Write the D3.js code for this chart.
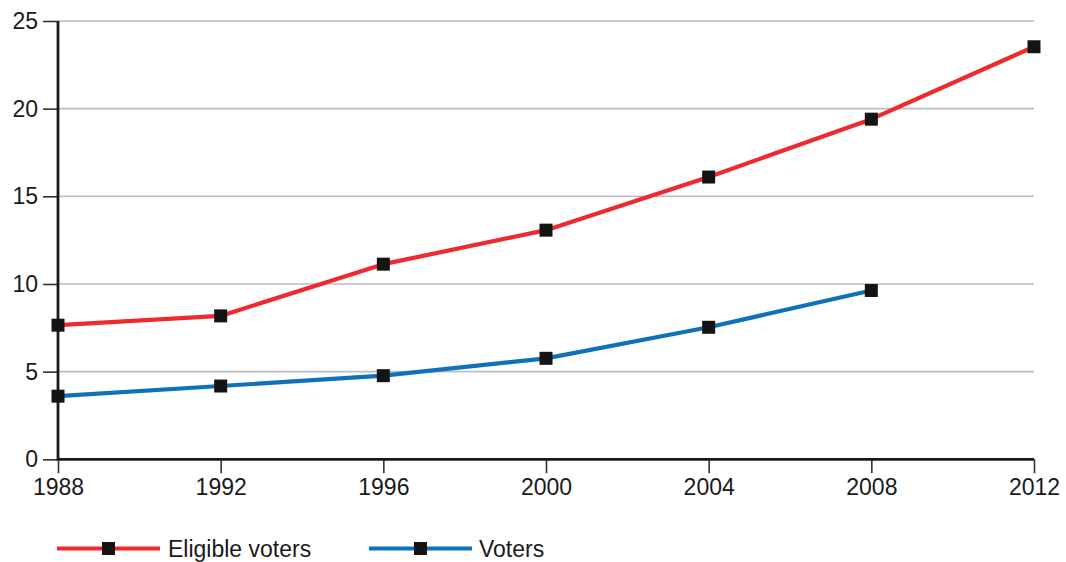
<!DOCTYPE html>
<html>
<head>
<meta charset="utf-8">
<script src="https://cdn.jsdelivr.net/npm/d3@7"></script>
<style>
  html, body { margin: 0; padding: 0; background: #fff; }
  svg { display: block; font-family: "Liberation Sans", Arial, Helvetica, sans-serif; }
</style>
</head>
<body>
<svg id="chart" width="1066" height="562"></svg>
<script>
const years = [1988, 1992, 1996, 2000, 2004, 2008, 2012];
const eligibleVoters = [7.65, 8.18, 11.13, 13.07, 16.1, 19.4, 23.53];
const voters = [3.6, 4.18, 4.77, 5.76, 7.53, 9.63];
const yTicks = [0, 5, 10, 15, 20, 25];
const seriesNames = ["Eligible voters", "Voters"];
const seriesColors = ["#ee2a2e", "#0f72b9"];

const FS = 23;
const svg = d3.select("#chart");
const x = d3.scaleLinear().domain([1988, 2012]).range([58, 1034]);
const y = d3.scaleLinear().domain([0, 25]).range([459.3, 21]);

// gridlines
svg.append("g").selectAll("line").data(yTicks.filter(d => d > 0)).join("line")
  .attr("x1", x(1988)).attr("x2", x(2012))
  .attr("y1", d => y(d)).attr("y2", d => y(d))
  .attr("stroke", "#bdbdbd").attr("stroke-width", 1.6);

// y axis
const yAxis = svg.append("g").attr("transform", `translate(${x(1988)},0)`)
  .call(d3.axisLeft(y).tickValues(yTicks).tickSize(15).tickPadding(5).tickFormat(d3.format("d")));
yAxis.select(".domain").remove();
yAxis.attr("font-size", FS).attr("font-family", "Liberation Sans, Arial, sans-serif");
yAxis.selectAll(".tick line").attr("stroke", "#333").attr("stroke-width", 1.6);
yAxis.selectAll(".tick text").attr("fill", "#1a1a1a");

// x axis
const xAxis = svg.append("g").attr("transform", `translate(0,${y(0)})`)
  .call(d3.axisBottom(x).tickValues(years).tickSize(14).tickPadding(5).tickFormat(d3.format("d")));
xAxis.select(".domain").remove();
xAxis.attr("font-size", FS).attr("font-family", "Liberation Sans, Arial, sans-serif");
xAxis.selectAll(".tick line").attr("stroke", "#333").attr("stroke-width", 1.6);
xAxis.selectAll(".tick text").attr("fill", "#1a1a1a");

// axis lines
svg.append("line").attr("x1", x(1988)).attr("x2", x(2012)).attr("y1", y(0)).attr("y2", y(0))
  .attr("stroke", "#1a1a1a").attr("stroke-width", 2.8);
svg.append("line").attr("x1", x(1988)).attr("x2", x(1988)).attr("y1", y(0) + 1.4).attr("y2", y(25))
  .attr("stroke", "#1a1a1a").attr("stroke-width", 2.8);

const line = d3.line().x(d => x(d[0])).y(d => y(d[1]));
const seriesData = [
  eligibleVoters.map((v, i) => [years[i], v]),
  voters.map((v, i) => [years[i], v])
];

seriesData.forEach((data, si) => {
  svg.append("path").datum(data).attr("d", line)
    .attr("fill", "none").attr("stroke", seriesColors[si]).attr("stroke-width", 4.2)
    .attr("stroke-linejoin", "round");
  svg.append("g").selectAll("rect").data(data).join("rect")
    .attr("x", d => x(d[0]) - 6.5).attr("y", d => y(d[1]) - 6.5)
    .attr("width", 13).attr("height", 13).attr("fill", "#141414");
});

// legend
const legendItems = [
  { x1: 57, x2: 160, tx: 168 },
  { x1: 369, x2: 472, tx: 479 }
];
const ly = 548.5;
legendItems.forEach((it, i) => {
  const g = svg.append("g");
  g.append("line").attr("x1", it.x1).attr("x2", it.x2).attr("y1", ly).attr("y2", ly)
    .attr("stroke", seriesColors[i]).attr("stroke-width", 4.2);
  const cx = (it.x1 + it.x2) / 2;
  g.append("rect").attr("x", cx - 6.5).attr("y", ly - 6.5).attr("width", 13).attr("height", 13).attr("fill", "#141414");
  g.append("text").attr("x", it.tx).attr("y", ly + 8).attr("font-size", FS).attr("fill", "#1a1a1a")
    .text(seriesNames[i]);
});
</script>
</body>
</html>
